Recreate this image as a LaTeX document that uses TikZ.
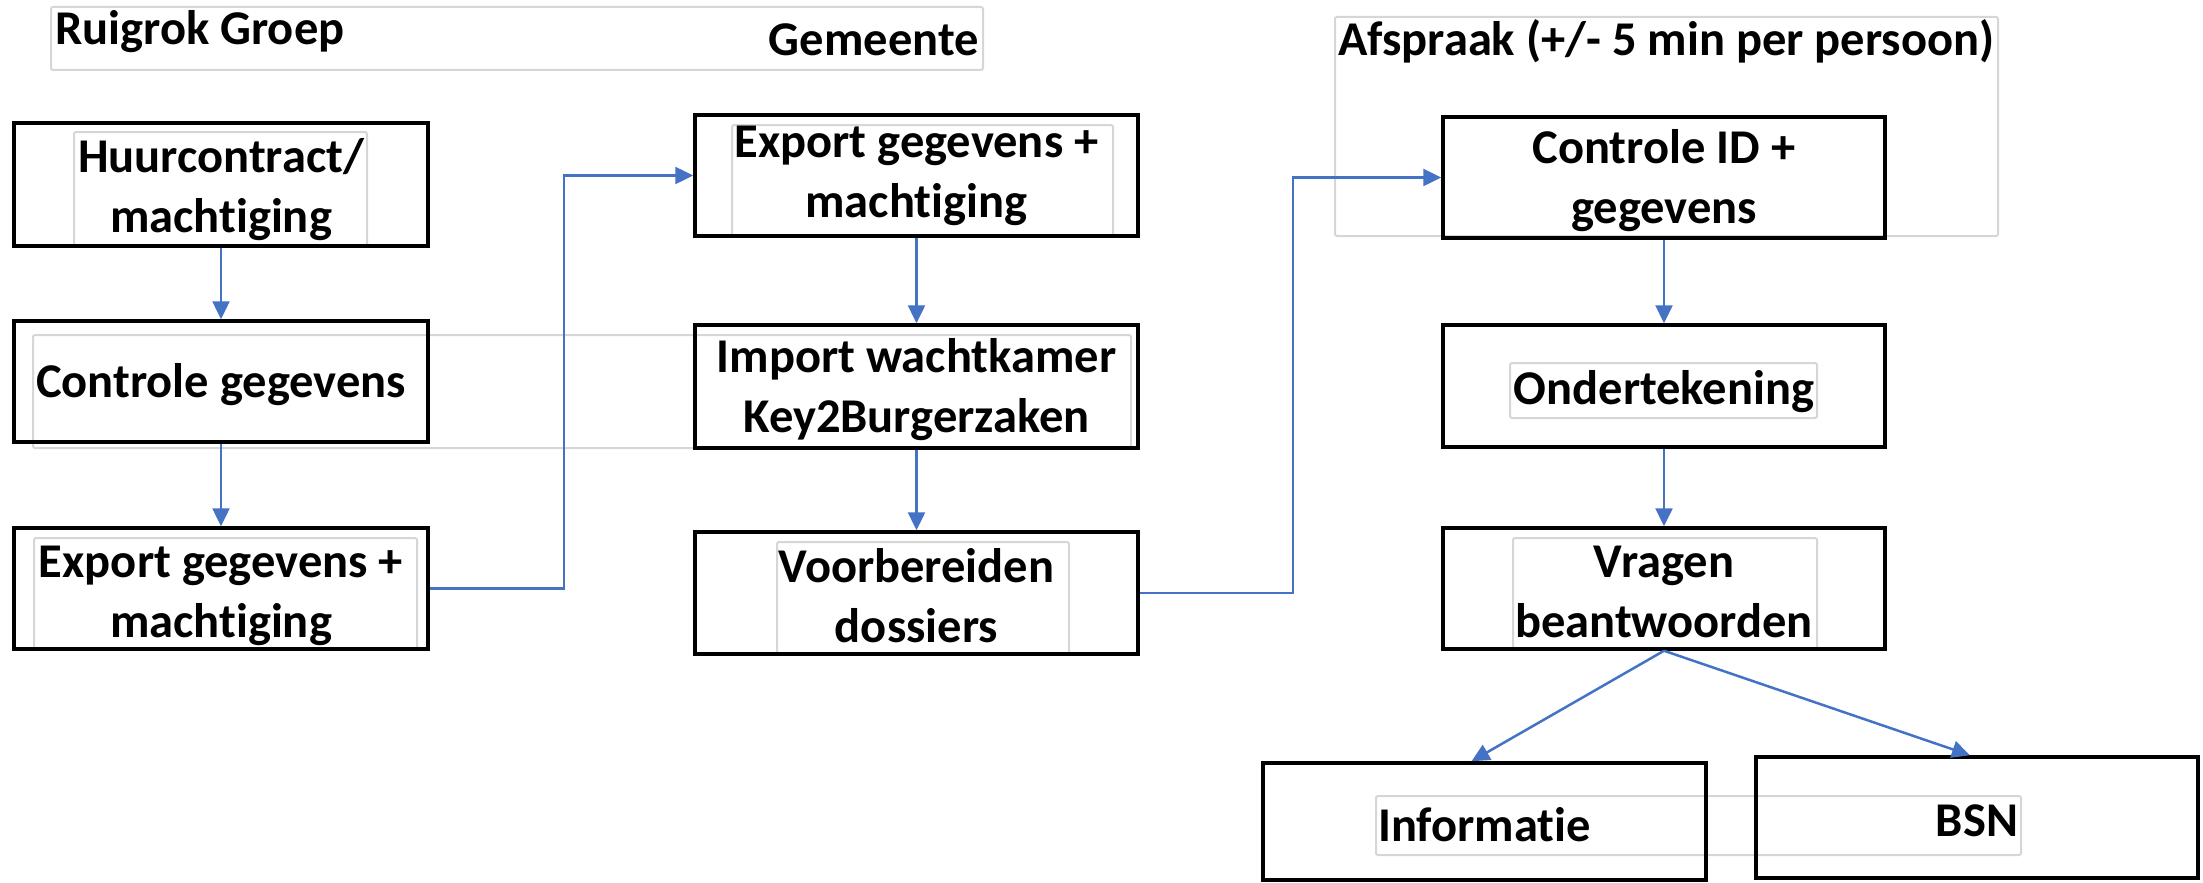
\documentclass[tikz,border=0pt]{standalone}
\usepackage{fontspec}
\setmainfont{Carlito}[Ligatures=NoCommon]
\usetikzlibrary{arrows.meta}
\definecolor{flowblue}{HTML}{4472C4}
\definecolor{framegray}{HTML}{D6D6D6}
\newcommand{\lowerby}[2]{\raisebox{-#1}[\height][\depth]{#2}}
\newcommand{\twolines}[3]{\lowerby{#1}{\parbox{405pt}{\centering #2\\#3}}}
\tikzset{
  stepbox/.style={draw=black, line width=3.5pt, inner sep=0pt, align=center,
    font=\fontsize{48.5}{60}\selectfont\bfseries},
  title/.style={inner sep=0pt, font=\fontsize{48.5}{59}\selectfont\bfseries},
  frame/.style={draw=framegray, line width=2pt, rounded corners=2pt},
  flow/.style={draw=flowblue, line width=2.5pt, -{Triangle[length=18pt,width=17pt]}}
}
\begin{document}
\begin{tikzpicture}[x=1pt,y=-1pt]
\useasboundingbox (0,0) rectangle (2203,883);
% light text frames
\draw[frame] (51,7) rectangle (983,70);
\draw[frame] (1335,17) rectangle (1998,236);
\draw[frame] (74,132) rectangle (367,246);
\draw[frame] (33,335) rectangle (1131,448);
\draw[frame] (34,538) rectangle (417,649);
\draw[frame] (732,125) rectangle (1113,236);
\draw[frame] (777,542) rectangle (1069,654);
\draw[frame] (1510,363) rectangle (1817,418);
\draw[frame] (1513,538) rectangle (1817,649);
\draw[frame] (1376,796) rectangle (2021,855);
% titles
\node[title, anchor=base west] (rg) at (55,45) {Ruigrok Groep};
\node[title, anchor=base east] (gm) at (979,56) {Gemeente};
\node[title, anchor=base west] (af) at (1338,56) {Afspraak (+/- 5 min per persoon)};
% column 1
\node[stepbox, minimum width=414pt, minimum height=123pt] (hc) at (221,184.5) {\twolines{5pt}{Huurcontract/}{machtiging}};
\node[stepbox, minimum width=414pt, minimum height=121pt] (cg) at (221,381.5) {\lowerby{3pt}{Controle gegevens}};
\node[stepbox, minimum width=414pt, minimum height=121pt] (ex1) at (221,588.5) {\twolines{7pt}{Export gegevens +}{machtiging}};
% column 2
\node[stepbox, minimum width=443pt, minimum height=121pt] (ex2) at (916.5,175.5) {\twolines{0pt}{Export gegevens +}{machtiging}};
\node[stepbox, minimum width=443pt, minimum height=123pt] (imp) at (916.5,386.5) {\twolines{3pt}{Import wachtkamer}{Key2Burgerzaken}};
\node[stepbox, minimum width=443pt, minimum height=122pt] (vb) at (916.5,593) {\twolines{3pt}{Voorbereiden}{dossiers}};
% column 3
\node[stepbox, minimum width=442pt, minimum height=121pt] (cid) at (1664,177.5) {\twolines{3pt}{Controle ID +}{gegevens}};
\node[stepbox, minimum width=442pt, minimum height=122pt] (ond) at (1664,386) {\lowerby{6pt}{Ondertekening}};
\node[stepbox, minimum width=442pt, minimum height=121pt] (vr) at (1664,588.5) {\twolines{3pt}{Vragen}{beantwoorden}};
\node[stepbox, minimum width=443pt, minimum height=117pt] (info) at (1484.5,821.5) {\lowerby{3pt}{Informatie}};
\node[stepbox, minimum width=442pt, minimum height=121pt] (bsn) at (1977,817.5) {\lowerby{3pt}{BSN}};
% connectors
\draw[flow] (hc.south) -- (cg.north);
\draw[flow] (cg.south) -- (ex1.north);
\draw[flow] (ex1.east) -- ++(134,0) |- (ex2.west);
\draw[flow] (ex2.south) -- (imp.north);
\draw[flow] (imp.south) -- (vb.north);
\draw[flow] (vb.east) -- ++(153,0) |- (cid.west);
\draw[flow] (cid.south) -- (ond.north);
\draw[flow] (ond.south) -- (vr.north);
\draw[flow] (vr.south) -- ([xshift=-13pt]info.north);
\draw[flow] (vr.south) -- ([xshift=-7pt]bsn.north);
\end{tikzpicture}
\end{document}
